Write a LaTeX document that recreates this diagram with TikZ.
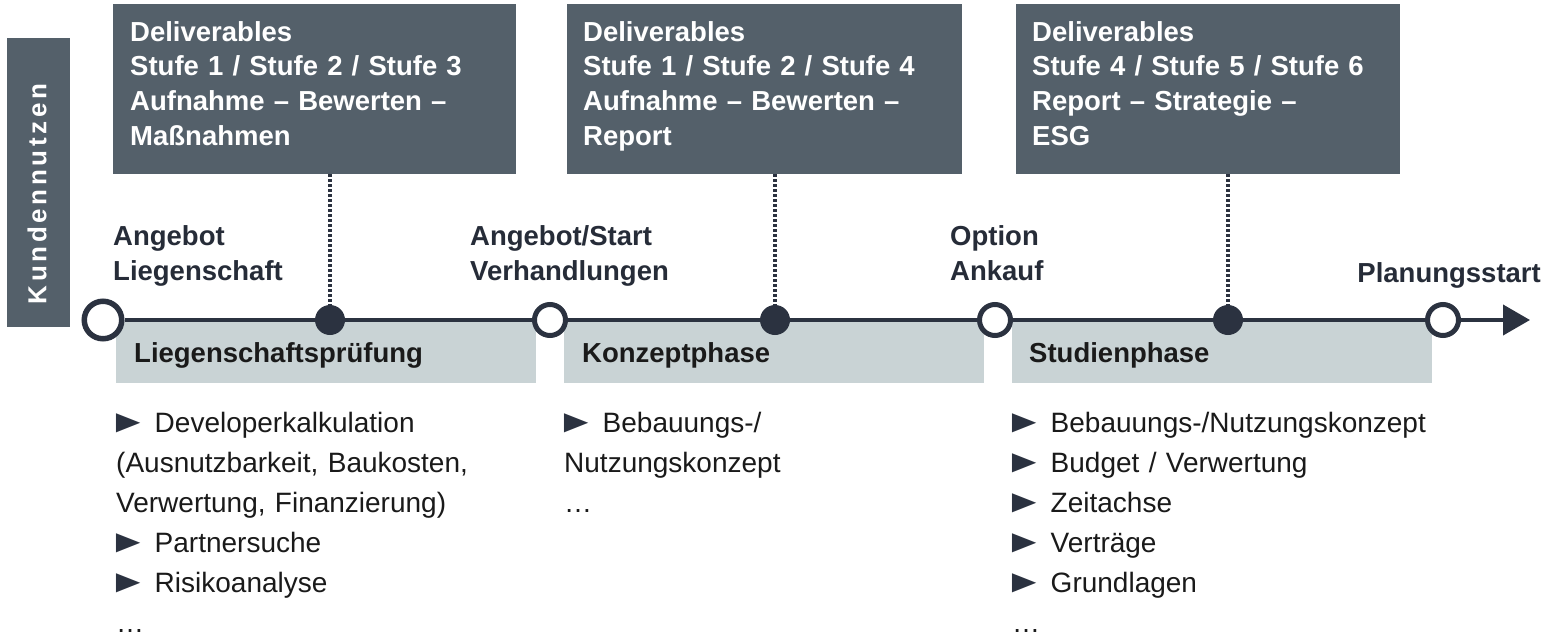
\documentclass[tikz,border=0pt]{standalone}
\usepackage{fontspec}
\usepackage{graphicx}
\setmainfont{Liberation Sans}
\usetikzlibrary{arrows.meta}
\definecolor{boxgrey}{HTML}{54606A}
\definecolor{bandgrey}{HTML}{C9D3D5}
\definecolor{navy}{HTML}{2B3240}
\definecolor{ink}{HTML}{1A1A1A}
\definecolor{mink}{HTML}{262C38}
\newcommand\mybul{\hspace*{-8pt}{\color{navy}\scalebox{1.45}[1.15]{\char"25BA}}\hspace*{-3pt}}
\begin{document}
\begin{tikzpicture}[x=1pt,y=-1pt,
 dbox/.style={fill=boxgrey,draw=none,inner sep=0,anchor=north west,minimum height=170},
 kbox/.style={fill=boxgrey,draw=none,inner sep=0,anchor=north west,minimum width=63,minimum height=289},
 band/.style={fill=bandgrey,draw=none,inner sep=0,anchor=north west,minimum width=420,minimum height=63},
 dtext/.style={text=white,font=\bfseries\fontsize{27.5}{34.7}\selectfont,anchor=base west,inner sep=0,text width=380,align=left},
 mtext/.style={text=mink,font=\bfseries\fontsize{27.5}{35}\selectfont,anchor=base west,inner sep=0,text width=260,align=left},
 btext/.style={text=ink,font=\bfseries\fontsize{27.5}{33}\selectfont,anchor=base west,inner sep=0},
 ltext/.style={text=ink,font=\fontsize{28}{40}\selectfont,anchor=base west,inner sep=0,text width=440,align=left},
 ktext/.style={text=white,font=\bfseries\fontsize{26}{30}\selectfont\addfontfeatures{LetterSpace=14},inner sep=0,rotate=90},
 openbig/.style={circle,draw=navy,fill=white,line width=5.5,minimum size=37.5,inner sep=0},
 openms/.style={circle,draw=navy,fill=white,line width=5,minimum size=31,inner sep=0},
 fillms/.style={circle,fill=navy,draw=none,minimum size=30,inner sep=0},
 tl/.style={draw=navy,line width=4},
 dotl/.style={draw=navy,line width=3.5,dash pattern=on 3pt off 2pt}
]
\useasboundingbox (0,0) rectangle (1550,637);
\fill[white] (0,0) rectangle (1550,637);

% side label
\node[kbox] (kb) at (7,38) {};
\node[ktext] (kt) at (37,194) {Kundennutzen};

% deliverable boxes
\node[dbox,minimum width=403] (d1) at (113,4) {};
\node[dbox,minimum width=395] (d2) at (567,4) {};
\node[dbox,minimum width=384] (d3) at (1016,4) {};
\node[dtext] (d1t) at (130,41) {Deliverables\\Stufe 1 / Stufe 2 / Stufe 3\\Aufnahme – Bewerten –\\Maßnahmen};
\node[dtext] (d2t) at (583,41) {Deliverables\\Stufe 1 / Stufe 2 / Stufe 4\\Aufnahme – Bewerten –\\Report};
\node[dtext] (d3t) at (1032,41) {Deliverables\\Stufe 4 / Stufe 5 / Stufe 6\\Report – Strategie –\\ESG};

% phase bands
\node[band] (b1) at (116,320) {};
\node[band] (b2) at (564,320) {};
\node[band] (b3) at (1012,320) {};
\node[btext] (b1t) at (134,362) {Liegenschaftsprüfung};
\node[btext] (b2t) at (582,362) {Konzeptphase};
\node[btext] (b3t) at (1029,362) {Studienphase};

% milestones
\node[openbig] (m1) at (103,320) {};
\node[openms] (m2) at (550,320) {};
\node[openms] (m3) at (995,320) {};
\node[openms] (m4) at (1443,320) {};
\node[fillms] (f1) at (330,320) {};
\node[fillms] (f2) at (775,320) {};
\node[fillms] (f3) at (1228,320) {};
\coordinate (tip) at (1530,320);

% timeline
\draw[tl] (m1) -- (f1);
\draw[tl] (f1) -- (m2);
\draw[tl] (m2) -- (f2);
\draw[tl] (f2) -- (m3);
\draw[tl] (m3) -- (f3);
\draw[tl] (f3) -- (m4);
\draw[tl,-{Triangle[length=27pt,width=30pt]}] (m4) -- (tip);

% dotted links
\draw[dotl] (f1 |- d1.south) -- (f1);
\draw[dotl] (f2 |- d2.south) -- (f2);
\draw[dotl] (f3 |- d3.south) -- (f3);

% milestone labels
\node[mtext] (m1t) at (113,245) {Angebot\\Liegenschaft};
\node[mtext] (m2t) at (470,245) {Angebot/Start\\Verhandlungen};
\node[mtext] (m3t) at (950,245) {Option\\Ankauf};
\node[text=mink,font=\bfseries\fontsize{27.5}{35}\selectfont,anchor=base east,inner sep=0] (m4t) at (1541,282) {Planungsstart};

% lists
\node[ltext] (l1) at (116,432) {\mybul\ Developerkalkulation\\(Ausnutzbarkeit, Baukosten,\\Verwertung, Finanzierung)\\\mybul\ Partnersuche\\\mybul\ Risikoanalyse\\…};
\node[ltext] (l2) at (564,432) {\mybul\ Bebauungs-/\\Nutzungskonzept\\…};
\node[ltext] (l3) at (1012,432) {\mybul\ Bebauungs-/Nutzungskonzept\\\mybul\ Budget / Verwertung\\\mybul\ Zeitachse\\\mybul\ Verträge\\\mybul\ Grundlagen\\…};
\end{tikzpicture}
\end{document}
